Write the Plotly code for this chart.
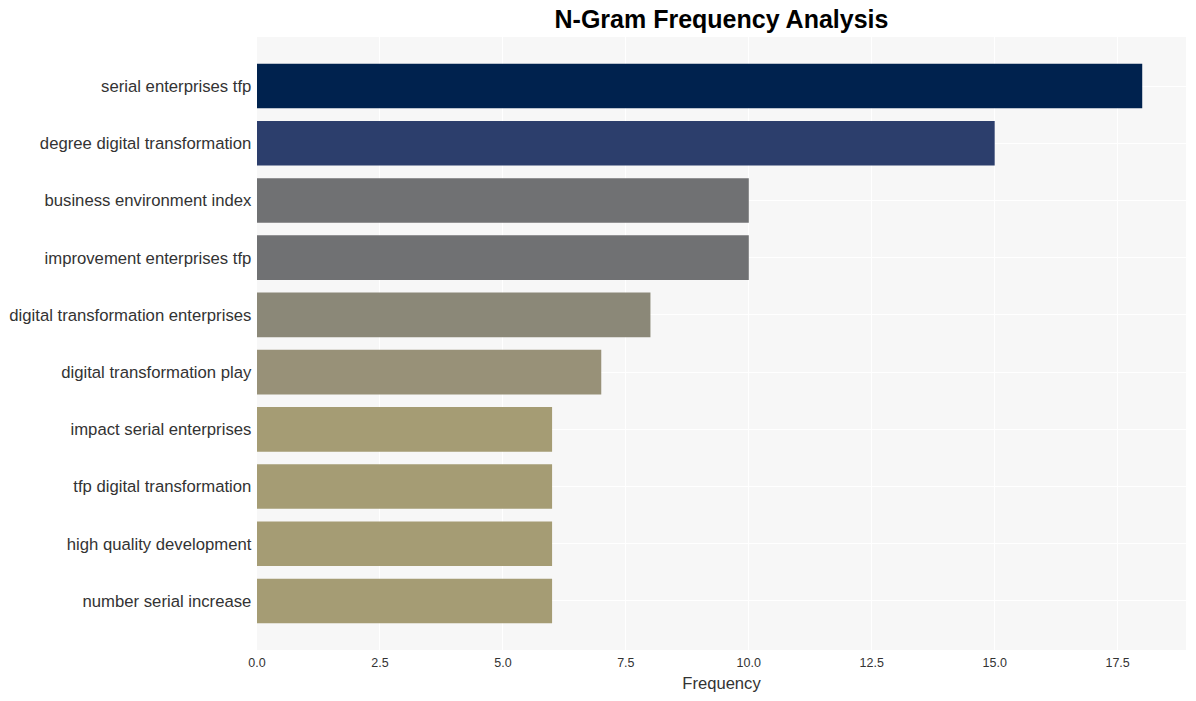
import plotly.graph_objects as go

categories = [
    "serial enterprises tfp",
    "degree digital transformation",
    "business environment index",
    "improvement enterprises tfp",
    "digital transformation enterprises",
    "digital transformation play",
    "impact serial enterprises",
    "tfp digital transformation",
    "high quality development",
    "number serial increase",
]
values = [18, 15, 10, 10, 8, 7, 6, 6, 6, 6]
colors = ["#00224e", "#2c3e6c", "#707173", "#707173", "#8b8878",
          "#989178", "#a59c74", "#a59c74", "#a59c74", "#a59c74"]

fig = go.Figure(go.Bar(
    x=values,
    y=categories,
    orientation="h",
    marker=dict(color=colors, line=dict(width=0)),
))

fig.update_layout(
    width=1196,
    height=701,
    margin=dict(l=257, r=10, t=37, b=51),
    paper_bgcolor="white",
    plot_bgcolor="#f7f7f7",
    font=dict(family="Liberation Sans, Arial, sans-serif", color="#333333"),
    title=dict(text="<b>N-Gram Frequency Analysis</b>", x=0.5, xref="paper",
               xanchor="center", y=0.972, yanchor="middle",
               font=dict(size=25, color="#000000")),
    bargap=0.22,
    showlegend=False,
)
fig.update_xaxes(
    title=dict(text="Frequency", font=dict(size=16.6, color="#333333"), standoff=8),
    tickfont=dict(size=12.5, color="#333333"),
    dtick=2.5, tickformat=".1f",
    ticks="outside", ticklen=1, tickcolor="rgba(0,0,0,0)",
    gridcolor="white", gridwidth=1, zeroline=False,
    range=[0, 18.89], automargin=False,
)
fig.update_yaxes(
    tickfont=dict(size=16.7, color="#333333"),
    autorange=False, range=[9.857, -0.857],
    gridcolor="white", gridwidth=1,
    ticklen=0, ticksuffix=" ", automargin=False,
)

fig.write_html("out.html")
